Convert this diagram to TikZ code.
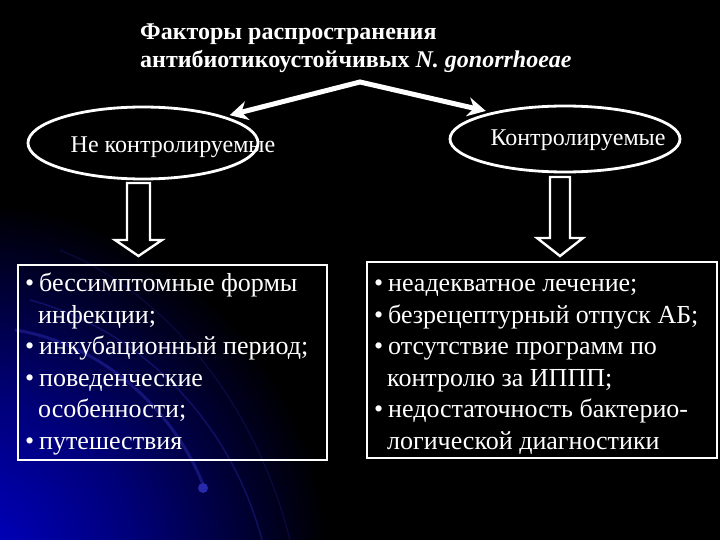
\documentclass[tikz,border=0pt]{standalone}
\usepackage{fontspec}
\setmainfont{Liberation Serif}
\newfontfamily\tnr{Liberation Serif}
\usetikzlibrary{arrows.meta,shapes.geometric,calc}
\newcommand\bul{\makebox[14pt][l]{\textbullet}}
\newcommand\ind{\hspace*{13pt}}
\definecolor{arcblue}{RGB}{40,40,170}
\definecolor{glowblue}{RGB}{0,0,205}
\definecolor{glowmid}{RGB}{0,0,120}
\pgfdeclareradialshading{glow}{\pgfpoint{0bp}{0bp}}{color(0bp)=(glowblue); color(12bp)=(glowmid); color(25bp)=(black); color(50bp)=(black)}
\tikzset{
  oval/.style={ellipse,draw=white,line width=2.8pt,fill=black,inner sep=0pt},
  boxed/.style={rectangle,draw=white,line width=1.6pt,inner sep=0pt},
  lbl/.style={text=white,inner sep=0pt,font=\tnr\fontsize{24}{28}\selectfont},
  bodytxt/.style={text=white,inner sep=0pt,align=left,anchor=base west,font=\tnr\fontsize{26}{31.5}\selectfont},
  blockarrow/.style={draw=white,line width=2.4pt,fill=black,line join=miter},
  bigarrow/.style={draw=white,line width=5pt,{Stealth[length=18pt,width=19pt]}-{Stealth[length=18pt,width=19pt]}}
}
\begin{document}
\begin{tikzpicture}[x=1pt,y=-1pt]
\useasboundingbox (0,0) rectangle (720,540);
\fill[black] (0,0) rectangle (720,540);
\begin{scope}
\clip (0,0) rectangle (720,540);
\shade[shading=glow] (-40,570) circle (370);
\draw[arcblue,line width=3pt,opacity=0.5] (15,330) .. controls (110,345) and (180,420) .. (205,490);
\draw[arcblue,line width=1.5pt,opacity=0.4] (30,300) .. controls (140,330) and (230,420) .. (262,540);
\draw[arcblue,line width=1.2pt,opacity=0.25] (60,250) .. controls (180,300) and (260,420) .. (290,540);
\fill[arcblue] (203,488) circle (5);
\end{scope}

% title
\node[text=white,inner sep=0pt,anchor=base west,align=left,font=\tnr\bfseries\fontsize{24}{28}\selectfont] (title) at (140,68)
  {Факторы распространения\\антибиотикоустойчивых \textit{N. gonorrhoeae}};

% ellipses
\node[oval,minimum width=230pt,minimum height=72pt] (L) at (143,143) {};
\node[oval,minimum width=230pt,minimum height=66pt] (R) at (565,139) {};
\node[lbl] (Lt) at (173,147) {Не контролируемые};
\node[lbl] (Rt) at (578,140) {Контролируемые};

% top arrow
\coordinate (apex) at (360,82);
\draw[bigarrow,shorten <=5pt,shorten >=6pt] (L.18) -- (apex) -- (R.160);

% block arrows
\draw[blockarrow] (127,183) -- (150,183) -- (150,240) -- (162,240) -- (138.5,256) -- (115,240) -- (127,240) -- cycle;
\draw[blockarrow] (550,177) -- (570,177) -- (570,238) -- (583,238) -- (560,256) -- (537,238) -- (550,238) -- cycle;

% boxes
\node[boxed,minimum width=309pt,minimum height=195pt] (BL) at (172.5,362.5) {};
\node[boxed,minimum width=350pt,minimum height=196pt] (BR) at (542,360) {};

\node[bodytxt] (TL) at (25,449) {\bul бессимптомные формы\\\ind инфекции;\\\bul инкубационный период;\\\bul поведенческие\\\ind особенности;\\\bul путешествия};
\node[bodytxt] (TR) at (374,449) {\bul неадекватное лечение;\\\bul безрецептурный отпуск АБ;\\\bul отсутствие программ по\\\ind контролю за ИППП;\\\bul недостаточность бактерио-\\\ind логической диагностики};
\end{tikzpicture}
\end{document}
